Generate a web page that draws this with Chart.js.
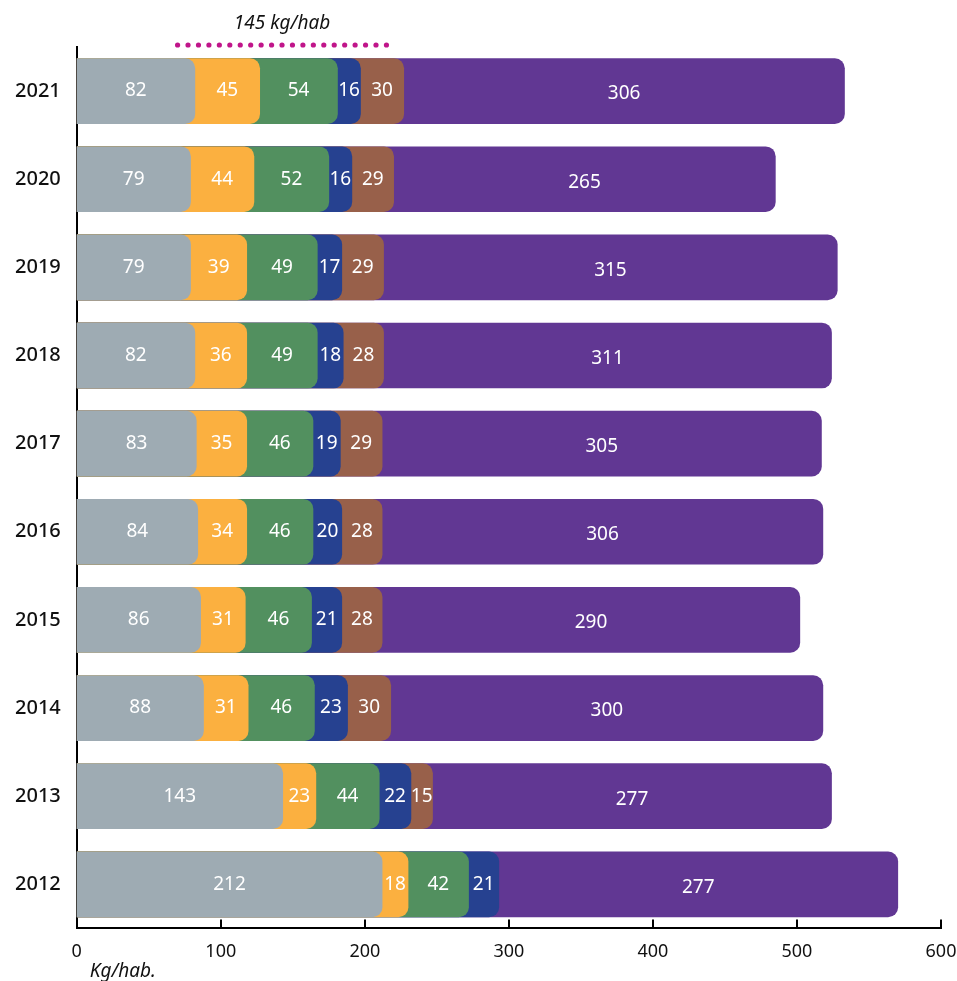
<!DOCTYPE html>
<html>
<head>
<meta charset="utf-8">
<script src="https://cdn.jsdelivr.net/npm/chart.js@4.4.1/dist/chart.umd.min.js"></script>
<style>
  html, body { margin: 0; padding: 0; background: #fff; }
  #wrap { width: 957px; height: 981px; }
</style>
</head>
<body>
<div id="wrap"><canvas id="kgChart"></canvas></div>
<script>
const years = ["2021", "2020", "2019", "2018", "2017", "2016", "2015", "2014", "2013", "2012"];
const gris    = [82, 79, 79, 82, 83, 84, 86, 88, 143, 212];
const naranja = [45, 44, 39, 36, 35, 34, 31, 31, 23, 18];
const verde   = [54, 52, 49, 49, 46, 46, 46, 46, 44, 42];
const azul    = [16, 16, 17, 18, 19, 20, 21, 23, 22, 21];
const marron  = [30, 29, 29, 28, 29, 28, 28, 30, 15, null];
const morado  = [306, 265, 315, 311, 305, 306, 290, 300, 277, 277];
const xTicks  = [0, 100, 200, 300, 400, 500, 600];

// dotted bracket at the top
const bracketStart = 70;
const bracketValue = 145;
const bracketLabel = "145 kg/hab";
const axisTitle = "Kg/hab.";

const series = [gris, naranja, verde, azul, marron, morado];
const colors = ["#9eabb3", "#fbb040", "#52905f", "#264190", "#98604a", "#613793"];

// each bar runs from 0 to the running total, so rounded corners show the next colour underneath
const totals = [];
series.forEach((s, i) => {
    totals.push(s.map((v, j) => (i > 0 ? totals[i - 1][j] : 0) + (v || 0)));
});

const segmentLabels = {
    id: "segmentLabels",
    afterDatasetsDraw(chart) {
        const ctx = chart.ctx;
        const x = chart.scales.x;
        ctx.save();
        ctx.font = "19px 'Noto Sans'";
        ctx.fillStyle = "#fff";
        ctx.textAlign = "center";
        ctx.textBaseline = "middle";
        series.forEach((s, i) => {
            const meta = chart.getDatasetMeta(i);
            s.forEach((v, j) => {
                if (v == null) return;
                const start = i > 0 ? totals[i - 1][j] : 0;
                const end = totals[i][j];
                const px = (x.getPixelForValue(start) + x.getPixelForValue(end)) / 2;
                ctx.fillText(String(v), px, meta.data[j].y + (i === 5 ? 3 : 0));
            });
        });
        ctx.restore();
    }
};

const extras = {
    id: "extras",
    afterDraw(chart) {
        const ctx = chart.ctx;
        const x = chart.scales.x;
        const area = chart.chartArea;

        // tick marks pointing up from the x axis
        ctx.save();
        ctx.strokeStyle = "#000";
        ctx.lineWidth = 2;
        xTicks.forEach(v => {
            if (v === 0) return;
            const px = Math.round(x.getPixelForValue(v));
            ctx.beginPath();
            ctx.moveTo(px, area.bottom);
            ctx.lineTo(px, area.bottom - 9);
            ctx.stroke();
        });

        const x0 = x.getPixelForValue(bracketStart);
        const x1 = x.getPixelForValue(bracketStart + bracketValue);
        const y = area.top - 2;
        ctx.fillStyle = "#c0158a";
        const n = 20;
        for (let k = 0; k <= n; k++) {
            ctx.beginPath();
            ctx.arc(x0 + (x1 - x0) * k / n, y, 2.6, 0, Math.PI * 2);
            ctx.fill();
        }
        ctx.fillStyle = "#111";
        ctx.font = "italic 19px 'Noto Sans'";
        ctx.textAlign = "center";
        ctx.textBaseline = "middle";
        ctx.fillText(bracketLabel, (x0 + x1) / 2, y - 21);

        ctx.textAlign = "left";
        ctx.font = "italic 19px 'Noto Sans'";
        ctx.fillText(axisTitle, area.left + 13, area.bottom + 43);
        ctx.restore();
    }
};

new Chart(document.getElementById("kgChart"), {
    type: "bar",
    data: {
        labels: years,
        datasets: series.map((s, i) => ({
            label: "Serie " + (i + 1),
            data: s.map((v, j) => (v == null ? null : totals[i][j])),
            backgroundColor: colors[i],
            borderRadius: 10,
            borderSkipped: "start",
            grouped: false,
            barThickness: 65
        }))
    },
    options: {
        indexAxis: "y",
        responsive: true,
        maintainAspectRatio: false,
        animation: false,
        layout: { padding: { top: 47, right: 0, left: 7, bottom: 5 } },
        plugins: {
            legend: { display: false },
            tooltip: { enabled: false }
        },
        scales: {
            x: {
                min: 0,
                max: 600,
                afterBuildTicks: (axis) => { axis.ticks = xTicks.map(v => ({ value: v })); },
                afterFit: (axis) => { axis.paddingRight = 16; axis.paddingLeft = 0; },
                grid: { display: false, drawTicks: false },
                border: { color: "#000", width: 2 },
                ticks: { color: "#111", font: { family: "Noto Sans", size: 18 }, padding: 13 }
            },
            y: {
                grid: { display: false },
                border: { color: "#000", width: 2 },
                ticks: { color: "#111", font: { family: "Noto Sans", size: 20, weight: "500" }, padding: 8 }
            }
        }
    },
    plugins: [segmentLabels, extras]
});
</script>
</body>
</html>
